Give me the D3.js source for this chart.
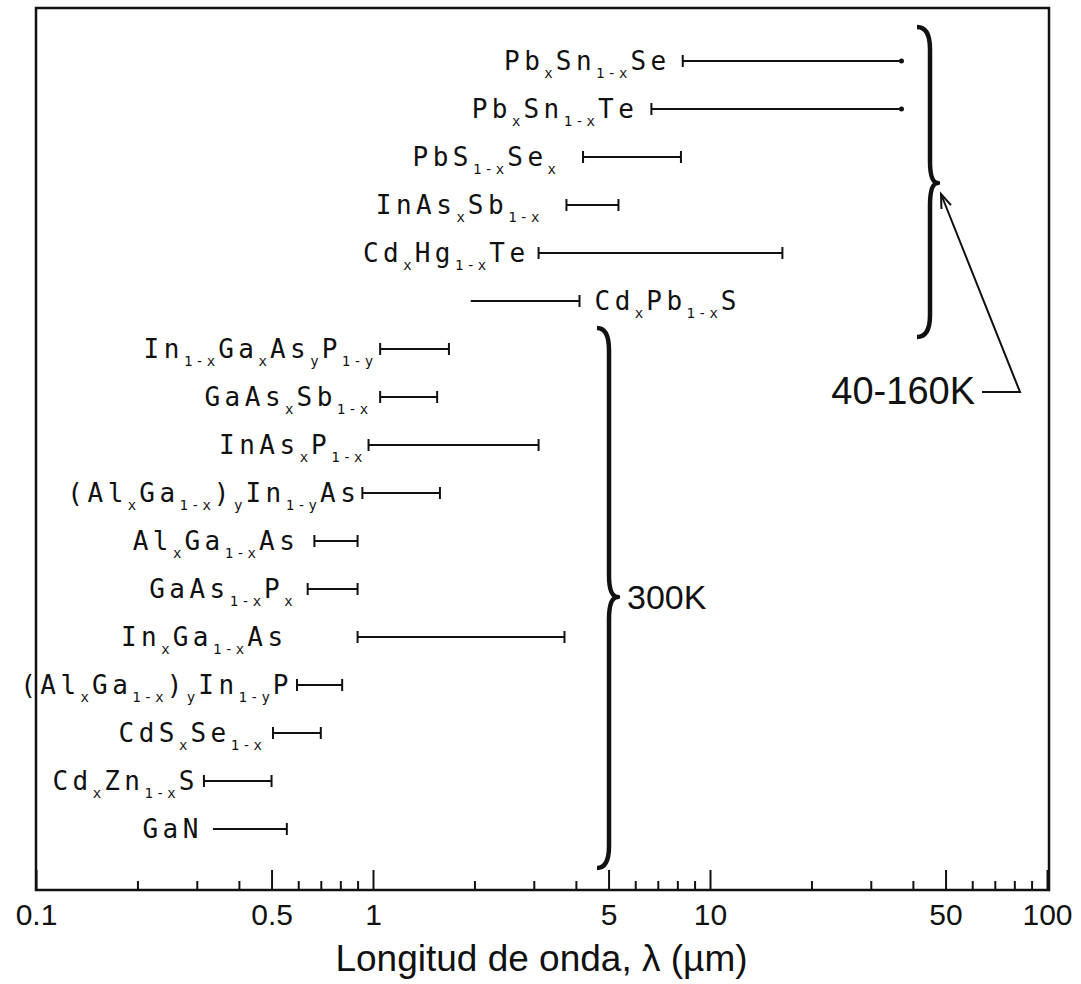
<!DOCTYPE html>
<html lang="es">
<head>
  <meta charset="UTF-8">
  <title>Longitud de onda</title>
  <script src="https://d3js.org/d3.v7.min.js"></script>
  <style>
    body { margin: 0; background: #fff; }
  </style>
</head>
<body>
  <svg id="svg" width="1081" height="984"></svg>
  <script>
    // materiales (de arriba a abajo), "_x" o "_{1-x}" = subíndice
    var names = [
      "Pb_xSn_{1-x}Se", "Pb_xSn_{1-x}Te", "PbS_{1-x}Se_x", "InAs_xSb_{1-x}",
      "Cd_xHg_{1-x}Te", "Cd_xPb_{1-x}S", "In_{1-x}Ga_xAs_yP_{1-y}", "GaAs_xSb_{1-x}",
      "InAs_xP_{1-x}", "(Al_xGa_{1-x})_yIn_{1-y}As", "Al_xGa_{1-x}As", "GaAs_{1-x}P_x",
      "In_xGa_{1-x}As", "(Al_xGa_{1-x})_yIn_{1-y}P", "CdS_xSe_{1-x}", "Cd_xZn_{1-x}S", "GaN"
    ]
    // rango de longitud de onda (µm)
    var lo = [8.3, 6.7, 4.2, 3.75, 3.1, 1.95, 1.05, 1.05, 0.97, 0.93, 0.67, 0.64, 0.9, 0.595, 0.505, 0.315, 0.335]
    var hi = [37, 37, 8.2, 5.35, 16.4, 4.1, 1.68, 1.55, 3.1, 1.58, 0.9, 0.9, 3.7, 0.81, 0.7, 0.5, 0.555]
    // tipo de extremo
    var leftEnd = ["cap", "cap", "cap", "cap", "cap", "none", "cap", "cap", "cap", "cap", "cap", "cap", "cap", "cap", "cap", "cap", "none"]
    var rightEnd = ["dot", "dot", "cap", "cap", "cap", "cap", "cap", "cap", "cap", "cap", "cap", "cap", "cap", "cap", "cap", "cap", "cap"]
    var majorTicks = [0.1, 0.5, 1, 5, 10, 50, 100]
    var tickLabels = ["0.1", "0.5", "1", "5", "10", "50", "100"]

    // separación etiqueta - barra (px)
    var labelPad = [12, 13, 24, 24, 9, -15, 4, 9, 3, 2, 15, 12, 70, 4, 8, 5, 10]

    var mLeft = 36, mRight = 1047, mTop = 8, mBottom = 890
    var svg = d3.select('svg')

    var x = d3.scaleLog()
      .domain([0.1, 100])
      .range([mLeft, mRight])

    var y = d3.scalePoint()
      .domain(d3.range(names.length))
      .range([61, 829])

    // marco
    svg.append('rect')
      .attr('x', mLeft).attr('y', mTop)
      .attr('width', mRight - mLeft + 2).attr('height', mBottom - mTop)
      .attr('fill', 'none').attr('stroke', '#111').attr('stroke-width', 2.5)

    // ejes
    var minor = x.ticks().filter(d => majorTicks.indexOf(+d.toPrecision(3)) < 0)
    svg.append('g')
      .attr('transform', 'translate(0,' + mBottom + ')')
      .call(d3.axisBottom(x).tickValues(minor).tickSizeInner(-9).tickSizeOuter(0).tickFormat(''))
    var gMajor = svg.append('g')
      .attr('transform', 'translate(0,' + mBottom + ')')
      .call(d3.axisBottom(x).tickValues(majorTicks).tickSizeInner(-20).tickSizeOuter(0).tickPadding(14)
        .tickFormat((d, i) => tickLabels[i]))
    svg.selectAll('.domain').remove()
    svg.selectAll('.tick line').attr('stroke', '#111').attr('stroke-width', 2)
    gMajor.selectAll('text')
      .attr('fill', '#111')
      .style('font-family', 'Liberation Sans, Arial, sans-serif')
      .style('font-size', '30px')

    svg.append('text')
      .attr('x', (mLeft + mRight) / 2).attr('y', 971)
      .attr('text-anchor', 'middle')
      .style('font-family', 'Liberation Sans, Arial, sans-serif')
      .style('font-size', '37px')
      .attr('fill', '#111')
      .text('Longitud de onda, λ (µm)')

    // barras
    var rows = svg.selectAll('g.row')
      .data(names)
      .enter()
      .append('g')
      .attr('class', 'row')

    rows.each(function (d, i) {
      var g = d3.select(this), yy = y(i)
      g.append('line')
        .attr('x1', x(lo[i])).attr('x2', x(hi[i]))
        .attr('y1', yy).attr('y2', yy)
        .attr('stroke', '#111').attr('stroke-width', 2)
      if (leftEnd[i] == 'cap') {
        g.append('line')
          .attr('x1', x(lo[i])).attr('x2', x(lo[i]))
          .attr('y1', yy - 6).attr('y2', yy + 6)
          .attr('stroke', '#111').attr('stroke-width', 2)
      }
      if (rightEnd[i] == 'cap') {
        g.append('line')
          .attr('x1', x(hi[i])).attr('x2', x(hi[i]))
          .attr('y1', yy - 6).attr('y2', yy + 6)
          .attr('stroke', '#111').attr('stroke-width', 2)
      } else {
        g.append('circle')
          .attr('cx', x(hi[i])).attr('cy', yy)
          .attr('r', 2.5).attr('fill', '#111')
      }
    })

    // etiquetas con subíndices
    function parse(s) {
      var out = [], re = /_\{([^}]*)\}|_(.)|([^_]+)/g, m
      while ((m = re.exec(s))) {
        if (m[1] != null) out.push({ t: m[1], sub: true })
        else if (m[2] != null) out.push({ t: m[2], sub: true })
        else out.push({ t: m[3], sub: false })
      }
      return out
    }

    rows.each(function (d, i) {
      var after = labelPad[i] < 0
      var t = d3.select(this).append('text')
        .attr('x', after ? x(hi[i]) - labelPad[i] : x(lo[i]) - labelPad[i])
        .attr('y', y(i) + 9)
        .attr('text-anchor', after ? 'start' : 'end')
        .attr('fill', '#111')
        .style('font-family', 'DejaVu Sans Mono, monospace')
        .style('font-size', '26px')
      var shift = 0
      parse(d).forEach(p => {
        var dy = (p.sub ? 8 : 0) - shift
        shift = p.sub ? 8 : 0
        t.append('tspan')
          .attr('dy', dy)
          .style('font-size', p.sub ? '14px' : '26px')
          .style('letter-spacing', p.sub ? '3px' : '4.5px')
          .text(p.t)
      })
    })

    // llaves
    function brace(x0, xb, x1, y0, ym, y1, r) {
      return 'M' + x0 + ',' + y0 +
        'Q' + xb + ',' + y0 + ' ' + xb + ',' + (y0 + r) +
        'L' + xb + ',' + (ym - r) +
        'Q' + xb + ',' + ym + ' ' + x1 + ',' + ym +
        'Q' + xb + ',' + ym + ' ' + xb + ',' + (ym + r) +
        'L' + xb + ',' + (y1 - r) +
        'Q' + xb + ',' + y1 + ' ' + x0 + ',' + y1
    }
    svg.append('path')
      .attr('d', brace(597, 609, 618, 328, 597, 868, 22))
      .attr('fill', 'none').attr('stroke', '#111').attr('stroke-width', 4.5).attr('stroke-linejoin', 'round')
    svg.append('path')
      .attr('d', brace(917, 930, 938, 27, 183, 337, 22))
      .attr('fill', 'none').attr('stroke', '#111').attr('stroke-width', 4.5).attr('stroke-linejoin', 'round')

    svg.append('text')
      .attr('x', 627).attr('y', 609)
      .style('font-family', 'Liberation Sans, Arial, sans-serif')
      .style('font-size', '34px').attr('fill', '#111')
      .text('300K')
    svg.append('text')
      .attr('x', 975).attr('y', 404)
      .attr('text-anchor', 'end')
      .style('font-family', 'Liberation Sans, Arial, sans-serif')
      .style('font-size', '38px').attr('fill', '#111')
      .text('40-160K')

    // flecha
    var tip = [941, 194], knee = [1020, 392]
    svg.append('path')
      .attr('d', 'M982,392L' + knee + 'L' + tip)
      .attr('fill', 'none').attr('stroke', '#111').attr('stroke-width', 2)
    var ang = Math.atan2(knee[1] - tip[1], knee[0] - tip[0])
    var hd = [ang - 0.35, ang + 0.35].map(a => [tip[0] + 15 * Math.cos(a), tip[1] + 15 * Math.sin(a)])
    svg.append('path')
      .attr('d', 'M' + hd[0] + 'L' + tip + 'L' + hd[1])
      .attr('fill', 'none').attr('stroke', '#111').attr('stroke-width', 2)
  </script>
</body>
</html>
